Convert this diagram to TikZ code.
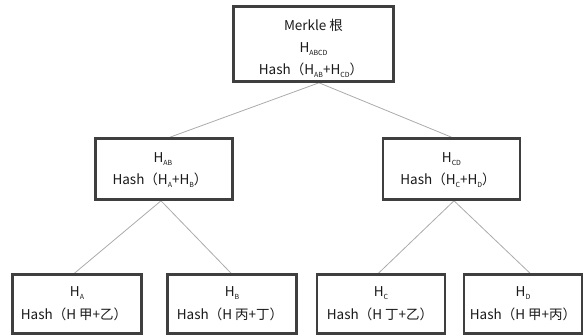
\documentclass[tikz,border=0pt]{standalone}
\usepackage{fontspec}
\setmainfont{Noto Sans CJK SC}
\pgfdeclarelayer{background}
\pgfsetlayers{background,main}
\definecolor{boxgray}{HTML}{3F3F3F}
\definecolor{linkgray}{HTML}{ABABAB}
\definecolor{textgray}{HTML}{1A1A1A}
% small lowered subscript letters
\newcommand{\hs}[1]{\raisebox{-0.35ex}{\fontsize{7}{8}\selectfont #1}}
\begin{document}
\begin{tikzpicture}[x=1pt,y=-1pt,
  hashbox/.style={draw=boxgray,line width=2.6pt,fill=white,inner sep=0pt},
  lbl/.style={text=textgray,font=\fontsize{13.5}{15}\selectfont,inner sep=0pt,anchor=center},
  link/.style={draw=linkgray,line width=0.8pt}]
\useasboundingbox (0,0) rectangle (585,336);

% boxes
\node[hashbox,minimum width=160pt,minimum height=75pt] (root) at (313.5,44) {};
\node[hashbox,minimum width=137pt,minimum height=61pt] (ab) at (164,169) {};
\node[hashbox,minimum width=137pt,minimum height=61pt] (cd) at (451.5,169) {};
\node[hashbox,minimum width=129pt,minimum height=59pt] (a) at (77,304) {};
\node[hashbox,minimum width=129pt,minimum height=59pt] (b) at (232,304) {};
\node[hashbox,minimum width=128pt,minimum height=59pt] (c) at (381,304) {};
\node[hashbox,minimum width=118pt,minimum height=59pt] (d) at (523,304) {};

% labels
\node[lbl] (root1) at (313.5,25) {Merkle 根};
\node[lbl] (root2) at (313.5,49) {H\hs{ABCD}};
\node[lbl] (root3) at (311,70) {Hash（H\hs{AB}+H\hs{CD}）};
\node[lbl] (ab1) at (163,159) {H\hs{AB}};
\node[lbl] (ab2) at (160,180) {Hash（H\hs{A}+H\hs{B}）};
\node[lbl] (cd1) at (451.5,159) {H\hs{CD}};
\node[lbl] (cd2) at (448,180) {Hash（H\hs{C}+H\hs{D}）};
\node[lbl] (a1) at (77,293) {H\hs{A}};
\node[lbl] (a2) at (74,314) {Hash（H 甲+乙）};
\node[lbl] (b1) at (232,293) {H\hs{B}};
\node[lbl] (b2) at (230,314) {Hash（H 丙+丁）};
\node[lbl] (c1) at (381,293) {H\hs{C}};
\node[lbl] (c2) at (380,314) {Hash（H 丁+乙）};
\node[lbl] (d1) at (523,293) {H\hs{D}};
\node[lbl] (d2) at (523,314) {Hash（H 甲+丙）};

% tree links
\begin{pgfonlayer}{background}
\draw[link] ([xshift=5.5pt]root.south) -- ([xshift=6pt]ab.north);
\draw[link] ([xshift=5.5pt]root.south) -- (cd.north);
\draw[link] ([xshift=-3pt]ab.south) -- ([xshift=-2.5pt]a.north);
\draw[link] ([xshift=-3pt]ab.south) -- ([xshift=-1pt]b.north);
\draw[link] ([xshift=2.5pt]cd.south) -- ([xshift=-2.5pt]c.north);
\draw[link] ([xshift=2.5pt]cd.south) -- ([xshift=7pt]d.north);
\end{pgfonlayer}
\end{tikzpicture}
\end{document}
